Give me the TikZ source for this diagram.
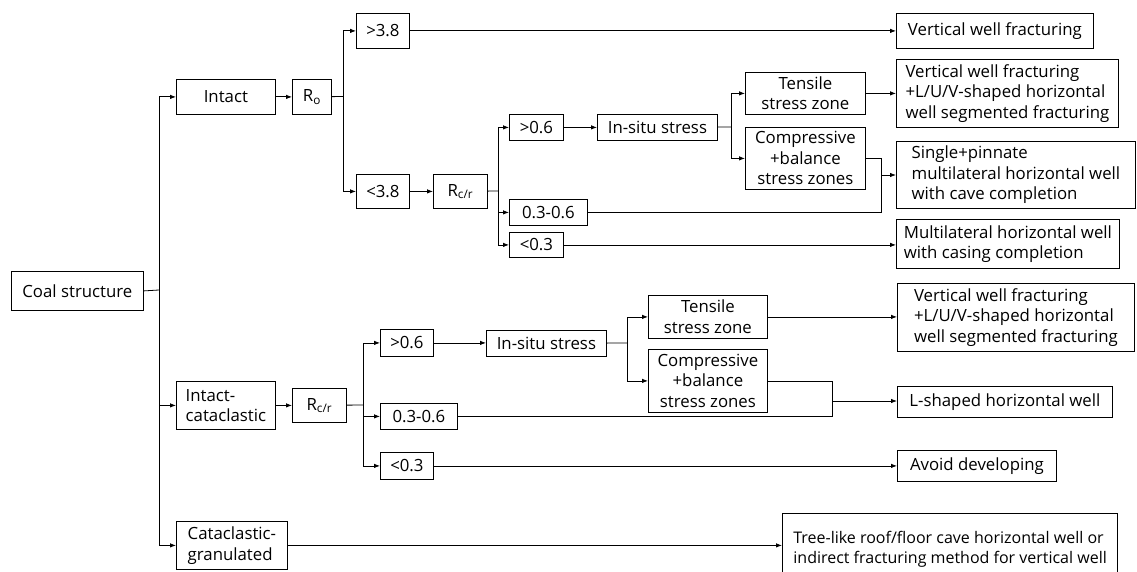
\documentclass[tikz,border=0pt]{standalone}
\usepackage{fontspec}
\setmainfont{Open Sans}
\usetikzlibrary{arrows.meta}

\begin{document}
\begin{tikzpicture}[x=1pt,y=-1pt,
  box/.style={draw,line width=0.8pt,anchor=north west,inner sep=0pt,align=center,
    font=\fontsize{16.8}{20.5}\selectfont},
  lbox/.style={box,align=left},
  ln/.style={line width=0.8pt},
  arr/.style={ln,-{Latex[length=6pt,width=4.5pt]}}]
\useasboundingbox (0,0) rectangle (1137,572);
% Linke Spalte
\node[box,minimum width=132pt,minimum height=39pt] (coal) at (11,271) {Coal structure};
\node[box,minimum width=99pt,minimum height=35pt] (intact) at (176,79) {Intact};
\node[lbox,minimum width=99pt,minimum height=48pt] (intcat) at (176,381) {Intact-\\cataclastic};
\node[lbox,minimum width=111pt,minimum height=48pt] (catgr) at (176,521) {Cataclastic-\\granulated};
% Zweig intact
\node[box,minimum width=39pt,minimum height=35pt] (ro) at (292,79) {R\textsubscript{o}};
\node[box,minimum width=53pt,minimum height=35pt] (gt38) at (356,13) {>3.8};
\node[box,minimum width=53pt,minimum height=34pt] (lt38) at (356,174) {<3.8};
\node[box,minimum width=54pt,minimum height=34pt] (rcra) at (433,174) {R\textsubscript{c/r}};
\node[box,minimum width=54pt,minimum height=26pt] (gt06a) at (509,114) {>0.6};
\node[box,minimum width=78pt,minimum height=26pt] (mida) at (509,199) {0.3-0.6};
\node[box,minimum width=54pt,minimum height=25pt] (lt03a) at (509,232) {<0.3};
\node[box,minimum width=120pt,minimum height=26pt] (situa) at (597,114) {In-situ stress};
\node[box,minimum width=120pt,minimum height=42pt] (tensa) at (745,72) {Tensile\\stress zone};
\node[box,minimum width=120pt,minimum height=62pt] (compa) at (745,127) {Compressive\\+balance\\stress zones};
% Zweig intact-cataclastic
\node[box,minimum width=54pt,minimum height=34pt] (rcrb) at (292,388) {R\textsubscript{c/r}};
\node[box,minimum width=53pt,minimum height=27pt] (gt06b) at (380,329) {>0.6};
\node[box,minimum width=77pt,minimum height=26pt] (midb) at (380,403) {0.3-0.6};
\node[box,minimum width=53pt,minimum height=27pt] (lt03b) at (380,452) {<0.3};
\node[box,minimum width=120pt,minimum height=26pt] (situb) at (486,330) {In-situ stress};
\node[box,minimum width=119pt,minimum height=43pt] (tensb) at (648,295) {Tensile\\stress zone};
\node[box,minimum width=119pt,minimum height=63pt] (compb) at (648,349) {Compressive\\+balance\\stress zones};
% Ergebnisse
\node[lbox,minimum width=197pt,minimum height=35pt] (res1) at (896,13) {Vertical well fracturing};
\node[lbox,minimum width=222pt,minimum height=68pt] (res2) at (896,59) {Vertical well fracturing\\+L/U/V-shaped horizontal\\well segmented fracturing};
\node[lbox,minimum width=239pt,minimum height=67pt] (res3) at (896,141) {Single+pinnate\\multilateral horizontal well\\with cave completion};
\node[lbox,minimum width=223pt,minimum height=49pt] (res4) at (896,219) {Multilateral horizontal well\\with casing completion};
\node[lbox,minimum width=237pt,minimum height=68pt] (res5) at (897,283) {Vertical well fracturing\\+L/U/V-shaped horizontal\\well segmented fracturing};
\node[lbox,minimum width=215pt,minimum height=31pt] (res6) at (897,386) {L-shaped horizontal well};
\node[lbox,minimum width=159pt,minimum height=31pt] (res7) at (897,450) {Avoid developing};
\node[lbox,inner xsep=11pt,minimum height=72pt,font=\fontsize{16}{20.5}\selectfont] (res8) at (782,513) {Tree-like roof/floor cave horizontal well or\\indirect fracturing method for vertical well};
% Verzweigungspunkte
\coordinate (trunk) at (159,290);
\coordinate (bro) at (343,96.5);
\coordinate (brca) at (498,191);
\coordinate (bsa) at (731,127);
\coordinate (ja) at (881,175);
\coordinate (brcb) at (363,405);
\coordinate (bsb) at (627,343);
\coordinate (jb) at (832,401);
% Verbindungen
\draw[ln] (coal.east) -- (trunk);
\draw[arr] (trunk) |- (intact);
\draw[arr] (trunk) |- (intcat);
\draw[arr] (trunk) |- (catgr);
\draw[arr] (intact) -- (ro);
\draw[ln] (ro) -- (bro);
\draw[arr] (bro) |- (gt38);
\draw[arr] (bro) |- (lt38);
\draw[arr] (gt38) -- (gt38 -| res1.west);
\draw[arr] (lt38) -- (rcra);
\draw[ln] (rcra) -- (brca);
\draw[arr] (brca) |- (gt06a);
\draw[arr] (brca) |- (mida);
\draw[arr] (brca) |- (lt03a);
\draw[arr] (gt06a) -- (situa);
\draw[ln] (situa) -- (bsa);
\draw[arr] (bsa) |- (tensa);
\draw[arr] (bsa) |- (compa);
\draw[arr] (tensa) -- (tensa -| res2.west);
\draw[ln] (compa.east) -| (ja);
\draw[ln] (mida.east) -| (ja);
\draw[arr] (ja) -- (ja -| res3.west);
\draw[arr] (lt03a) -- (lt03a -| res4.west);
\draw[arr] (intcat) -- (rcrb);
\draw[ln] (rcrb) -- (brcb);
\draw[arr] (brcb) |- (gt06b);
\draw[arr] (brcb) |- (midb);
\draw[arr] (brcb) |- (lt03b);
\draw[arr] (gt06b) -- (gt06b -| situb.west);
\draw[ln] (situb) -- (bsb);
\draw[arr] (bsb) |- (tensb);
\draw[arr] (bsb) |- (compb);
\draw[arr] (tensb) -- (tensb -| res5.west);
\draw[ln] (compb.east) -| (jb);
\draw[ln] (midb.east) -| (jb);
\draw[arr] (jb) -- (jb -| res6.west);
\draw[arr] (lt03b) -- (lt03b -| res7.west);
\draw[arr] (catgr) -- (catgr -| res8.west);
\end{tikzpicture}
\end{document}
